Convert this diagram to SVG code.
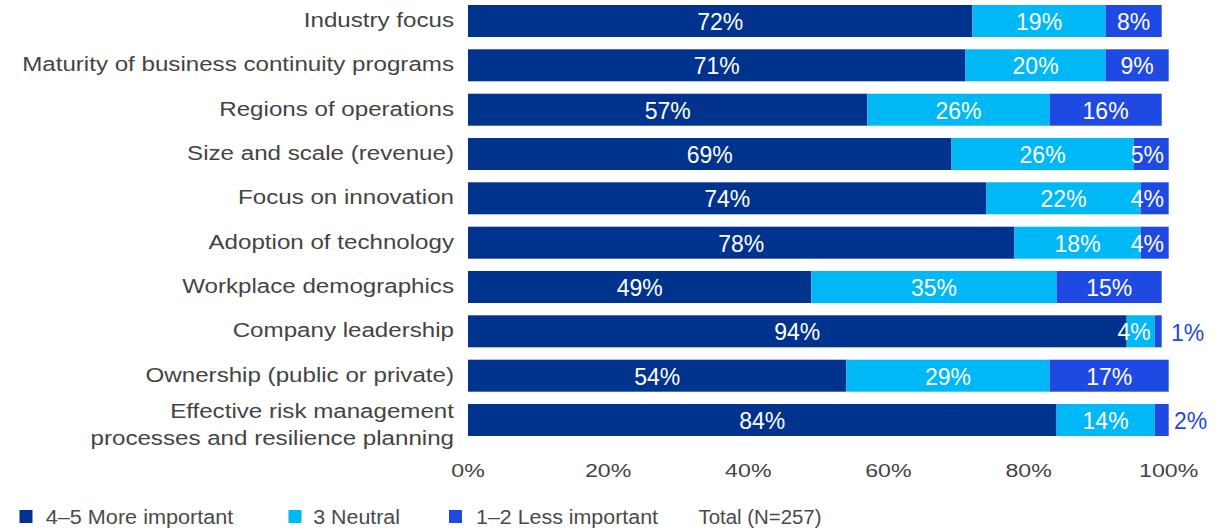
<svg xmlns="http://www.w3.org/2000/svg" width="1223" height="530" viewBox="0 0 1223 530">
<style>
.d{fill:#00338D}.l{fill:#00B8F5}.m{fill:#1E49E2}
.cat{font-family:"Liberation Sans",Arial,sans-serif;font-size:21px;fill:#444;text-anchor:end}
.v{font-family:"Liberation Sans",Arial,sans-serif;font-size:23px;fill:#fff;text-anchor:middle}
.vr{font-family:"Liberation Sans",Arial,sans-serif;font-size:23px;fill:#fff;text-anchor:end}
.vo{font-family:"Liberation Sans",Arial,sans-serif;font-size:23px;fill:#1E49E2;text-anchor:start}
.ax{font-family:"Liberation Sans",Arial,sans-serif;font-size:19px;fill:#444;text-anchor:middle}
.lg{font-family:"Liberation Sans",Arial,sans-serif;font-size:20px;fill:#4a4a4a}
</style>
<rect width="1223" height="530" fill="#fff"/>
<g id="labels" transform="translate(454 0) scale(1.15 1)">
<text class="cat" x="0" y="27">Industry focus</text>
<text class="cat" x="0" y="71.3">Maturity of business continuity programs</text>
<text class="cat" x="0" y="115.7">Regions of operations</text>
<text class="cat" x="0" y="160">Size and scale (revenue)</text>
<text class="cat" x="0" y="204.3">Focus on innovation</text>
<text class="cat" x="0" y="248.7">Adoption of technology</text>
<text class="cat" x="0" y="293">Workplace demographics</text>
<text class="cat" x="0" y="337.3">Company leadership</text>
<text class="cat" x="0" y="381.7">Ownership (public or private)</text>
<text class="cat" x="0" y="418">Effective risk management</text>
<text class="cat" x="0" y="445">processes and resilience planning</text>
</g>
<g id="row1">
<rect class="d" x="468" y="5" width="504.5" height="32"/>
<rect class="l" x="972.5" y="5" width="133.1" height="32"/>
<rect class="m" x="1105.6" y="5" width="56.1" height="32"/>
<text class="v" x="720.3" y="30">72%</text><text class="v" x="1039.1" y="30">19%</text><text class="v" x="1133.7" y="30">8%</text>
</g>
<g id="row2">
<rect class="d" x="468" y="49.3" width="497.5" height="32"/>
<rect class="l" x="965.5" y="49.3" width="140.1" height="32"/>
<rect class="m" x="1105.6" y="49.3" width="63.1" height="32"/>
<text class="v" x="716.7" y="74.3">71%</text><text class="v" x="1035.6" y="74.3">20%</text><text class="v" x="1137.2" y="74.3">9%</text>
</g>
<g id="row3">
<rect class="d" x="468" y="93.7" width="399.4" height="32"/>
<rect class="l" x="867.4" y="93.7" width="182.2" height="32"/>
<rect class="m" x="1049.6" y="93.7" width="112.1" height="32"/>
<text class="v" x="667.7" y="118.7">57%</text><text class="v" x="958.5" y="118.7">26%</text><text class="v" x="1105.6" y="118.7">16%</text>
</g>
<g id="row4">
<rect class="d" x="468" y="138" width="483.5" height="32"/>
<rect class="l" x="951.5" y="138" width="182.2" height="32"/>
<rect class="m" x="1133.7" y="138" width="35" height="32"/>
<text class="v" x="709.7" y="163">69%</text><text class="v" x="1042.6" y="163">26%</text><text class="vr" x="1164" y="163">5%</text>
</g>
<g id="row5">
<rect class="d" x="468" y="182.3" width="518.5" height="32"/>
<rect class="l" x="986.5" y="182.3" width="154.2" height="32"/>
<rect class="m" x="1140.7" y="182.3" width="28" height="32"/>
<text class="v" x="727.3" y="207.3">74%</text><text class="v" x="1063.6" y="207.3">22%</text><text class="vr" x="1164" y="207.3">4%</text>
</g>
<g id="row6">
<rect class="d" x="468" y="226.7" width="546.5" height="32"/>
<rect class="l" x="1014.5" y="226.7" width="126.2" height="32"/>
<rect class="m" x="1140.7" y="226.7" width="28" height="32"/>
<text class="v" x="741.3" y="251.7">78%</text><text class="v" x="1077.6" y="251.7">18%</text><text class="vr" x="1164" y="251.7">4%</text>
</g>
<g id="row7">
<rect class="d" x="468" y="271" width="343.3" height="32"/>
<rect class="l" x="811.3" y="271" width="245.3" height="32"/>
<rect class="m" x="1056.6" y="271" width="105.1" height="32"/>
<text class="v" x="639.7" y="296">49%</text><text class="v" x="934" y="296">35%</text><text class="v" x="1109.2" y="296">15%</text>
</g>
<g id="row8">
<rect class="d" x="468" y="315.3" width="658.7" height="32"/>
<rect class="l" x="1126.7" y="315.3" width="28" height="32"/>
<rect class="m" x="1154.7" y="315.3" width="7" height="32"/>
<text class="v" x="797.3" y="340.3">94%</text><text class="vr" x="1150.7" y="340.3">4%</text><text class="vo" x="1171" y="341">1%</text>
</g>
<g id="row9">
<rect class="d" x="468" y="359.7" width="378.4" height="32"/>
<rect class="l" x="846.4" y="359.7" width="203.2" height="32"/>
<rect class="m" x="1049.6" y="359.7" width="119.1" height="32"/>
<text class="v" x="657.2" y="384.7">54%</text><text class="v" x="948" y="384.7">29%</text><text class="v" x="1109.2" y="384.7">17%</text>
</g>
<g id="row10">
<rect class="d" x="468" y="404" width="588.6" height="32"/>
<rect class="l" x="1056.6" y="404" width="98.1" height="32"/>
<rect class="m" x="1154.7" y="404" width="14" height="32"/>
<text class="v" x="762.3" y="429">84%</text><text class="v" x="1105.6" y="429">14%</text><text class="vo" x="1174" y="429">2%</text>
</g>
<g id="axis">
<text class="ax" transform="translate(468 477) scale(1.22 1)">0%</text>
<text class="ax" transform="translate(608.1 477) scale(1.22 1)">20%</text>
<text class="ax" transform="translate(748.3 477) scale(1.22 1)">40%</text>
<text class="ax" transform="translate(888.4 477) scale(1.22 1)">60%</text>
<text class="ax" transform="translate(1028.6 477) scale(1.22 1)">80%</text>
<text class="ax" transform="translate(1168.7 477) scale(1.22 1)">100%</text>
</g>
<g id="legend">
<rect class="d" x="19.5" y="510" width="13" height="13"/>
<text class="lg" x="45.7" y="524" textLength="187.7" lengthAdjust="spacingAndGlyphs">4–5 More important</text>
<rect class="l" x="288.5" y="510" width="13" height="13"/>
<text class="lg" x="313.3" y="524" textLength="86.7" lengthAdjust="spacingAndGlyphs">3 Neutral</text>
<rect class="m" x="449" y="510" width="13" height="13"/>
<text class="lg" x="476" y="524" textLength="182" lengthAdjust="spacingAndGlyphs">1–2 Less important</text>
<text class="lg" x="698.5" y="524" textLength="123" lengthAdjust="spacingAndGlyphs">Total (N=257)</text>
</g>
</svg>
